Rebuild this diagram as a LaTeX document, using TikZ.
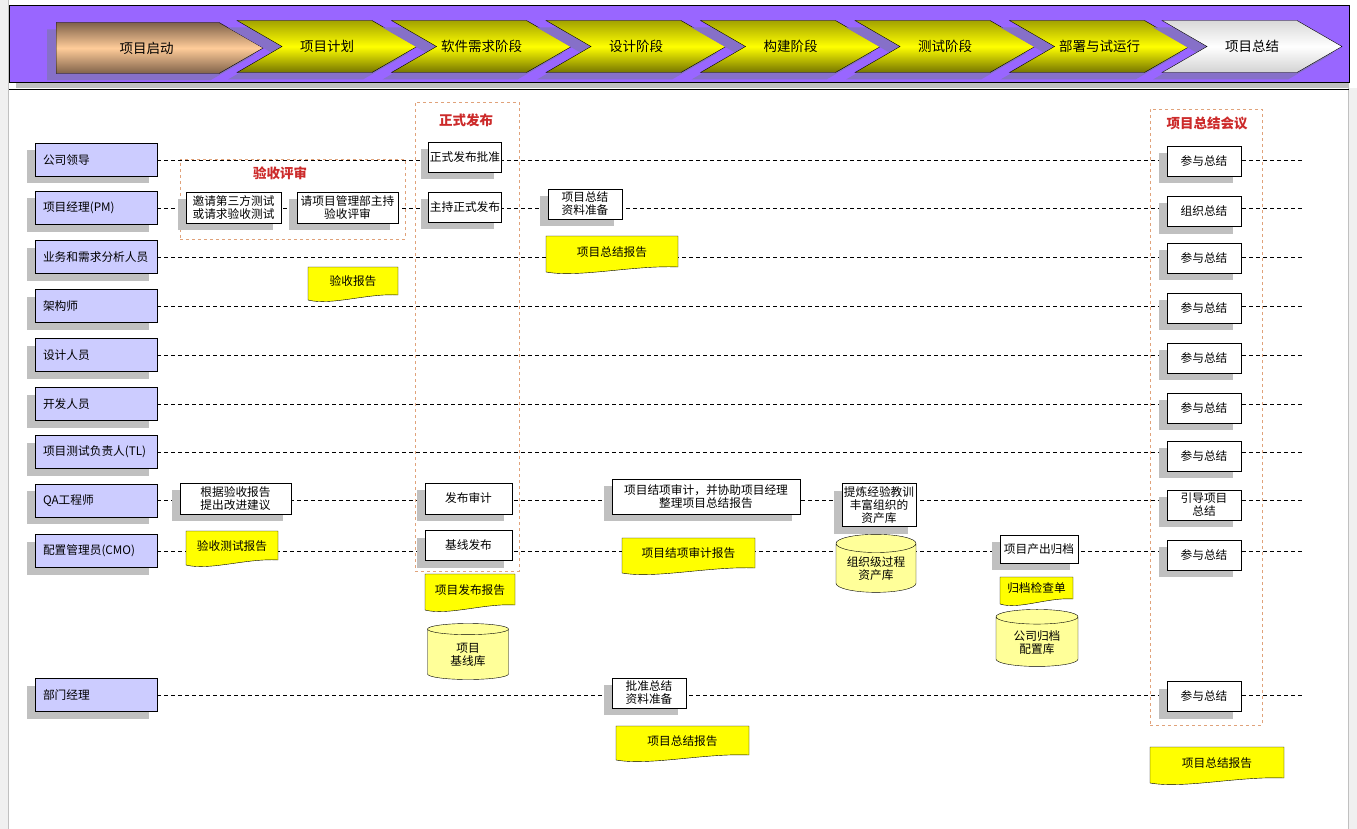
\documentclass[tikz,border=0pt]{standalone}
\usepackage{fontspec}
\setmainfont{Noto Sans CJK SC}
\usetikzlibrary{shapes.symbols, shapes.geometric, shadows, positioning}

\definecolor{hdrpurple}{HTML}{9966FF}
\definecolor{hdrshadow}{HTML}{8670C8}
\definecolor{rolefill}{HTML}{CCCCFF}
\definecolor{boxshadow}{HTML}{C0C0C0}
\definecolor{docyellow}{HTML}{FFFF00}
\definecolor{storefill}{HTML}{FFFF99}
\definecolor{framecol}{HTML}{E0A27A}
\definecolor{titlered}{HTML}{CC2A2A}
\definecolor{olivetop}{HTML}{A3A300}
\definecolor{olivebot}{HTML}{757500}
\definecolor{peach}{HTML}{FFCC99}
\definecolor{peachdark}{HTML}{80624A}
\definecolor{sidegray}{HTML}{F0F0F0}

\tikzset{
	stage/.style={signal, signal to=east, signal from=west, signal pointer angle=60, draw, minimum width=180pt, minimum height=52pt, inner sep=0pt, font=\fontsize{13.5pt}{15pt}\selectfont, drop shadow={shadow xshift=-9pt, shadow yshift=-7pt, fill=hdrshadow, opacity=1}, top color=olivetop, bottom color=olivebot, middle color=yellow},
	role/.style={draw, fill=rolefill, minimum width=122pt, minimum height=33pt, text width=106pt, align=left, inner sep=8pt, drop shadow={shadow xshift=-8pt, shadow yshift=-7pt, fill=boxshadow, opacity=1}},
	task/.style={draw, fill=white, inner sep=1pt, align=center, drop shadow={shadow xshift=-8pt, shadow yshift=-7pt, fill=boxshadow, opacity=1}},
	store/.style={cylinder, shape border rotate=90, aspect=0.3, draw, fill=storefill, align=center, inner sep=1pt},
	doctext/.style={inner sep=0pt, align=center},
	groupbox/.style={draw=framecol, dashed, inner sep=0pt},
	grouptitle/.style={text=titlered, font=\fontsize{13.5pt}{15pt}\selectfont\bfseries},
	lane/.style={dash pattern=on 4pt off 3pt, line width=0.7pt}
}

\begin{document}
\begin{tikzpicture}[x=1pt, y=-1pt, font=\fontsize{11.7pt}{13pt}\selectfont]
	\useasboundingbox (0,0) rectangle (1357,829);
	% page frame and header band
	\fill[sidegray] (0,0) rectangle (8,829);
	\fill[sidegray] (1349,88) rectangle (1357,829);
	\draw[boxshadow] (8.5,0) -- (8.5,829);
	\draw[boxshadow] (1348.5,88) -- (1348.5,829);
	\fill[boxshadow] (16,82) rectangle (1349,88);
	\draw[fill=hdrpurple] (9,5) rectangle (1349,82);
	\draw (9,89) -- (1349,89);

	\node[stage, signal from=nowhere, anchor=west, minimum width=207pt, minimum height=51pt, top color=peachdark, bottom color=peachdark, middle color=peach] (s0) at (56,48) {\hspace*{18pt}项目启动};
	\foreach \i/\t in {1/项目计划, 2/软件需求阶段, 3/设计阶段, 4/构建阶段, 5/测试阶段, 6/部署与试运行}
		\node[stage] (s\i) at (327+154.5*\i-154.5,46.5) {\t};
	\node[stage, top color=gray!30, bottom color=gray!35, middle color=white] (send) at (1252,46.5) {项目总结};

	% roles and swim lanes
	\foreach \i/\y/\t in {1/160/公司领导, 2/208/{项目经理(PM)}, 3/257/业务和需求分析人员, 4/306/架构师, 5/355/设计人员, 6/404/开发人员, 7/452/{项目测试负责人(TL)}, 8/500.5/QA工程师, 9/551/{配置管理员(CMO)}, 10/695/部门经理}{
		\node[role] (r\i) at (96,\y) {\t};
		\coordinate (e\i) at (1302,\y);
		\draw[lane] (r\i) -- (e\i);
	}

	% acceptance review
	\node[groupbox, minimum width=225pt, minimum height=80pt] (accbox) at (292.5,199) {};
	\node[grouptitle] (acct) at (280,173) {验收评审};
	\node[task, minimum width=95pt, minimum height=31pt] (invite) at (233.5,207.5) {邀请第三方测试\\或请求验收测试};
	\node[task, minimum width=101pt, minimum height=31pt] (askpmo) at (347.5,207.5) {请项目管理部主持\\验收评审};
	\node[task, minimum width=111pt, minimum height=31pt] (advise) at (235.5,498.5) {根据验收报告\\提出改进建议};

	% formal release
	\node[groupbox, minimum width=104pt, minimum height=469pt] (relbox) at (467,336.5) {};
	\node[grouptitle] (relt) at (466,120) {正式发布};
	\node[task, minimum width=73pt, minimum height=30pt] (approve) at (465,157) {正式发布批准};
	\node[task, minimum width=73pt, minimum height=30pt] (host) at (465,207) {主持正式发布};
	\node[task, minimum width=87pt, minimum height=31pt] (audit) at (468.5,498.5) {发布审计};
	\node[task, minimum width=87pt, minimum height=30pt] (baseline) at (468.5,545.5) {基线发布};
	\node[store, minimum width=81pt, minimum height=56pt] (baselib) at (468,655) {项目\\基线库};

	% closing
	\node[task, minimum width=74pt, minimum height=30pt] (prep) at (585,204) {项目总结\\资料准备};
	\node[task, minimum width=188pt, minimum height=35pt] (closeaudit) at (706,496.5) {项目结项审计，并协助项目经理\\整理项目总结报告};
	\node[task, minimum width=74pt, minimum height=30pt] (deptok) at (649,693) {批准总结\\资料准备};
	\node[task, minimum width=74pt, minimum height=43pt] (lessons) at (879,505) {提炼经验教训\\丰富组织的\\资产库};
	\node[store, minimum width=80pt, minimum height=58pt] (orglib) at (876,569) {组织级过程\\资产库};
	\node[task, minimum width=78pt, minimum height=28pt] (archive) at (1039,549) {项目产出归档};
	\node[store, minimum width=82pt, minimum height=57pt] (arclib) at (1037,642.5) {公司归档\\配置库};

	% documents
	\foreach \nm/\cx/\cy/\w/\h/\t in {accrep/353/283.5/90/33/验收报告, acctest/232/548/92/34/验收测试报告, relrep/470/592/90/36/项目发布报告, sumrep/612/254/132/36/项目总结报告, auditrep/688.5/555.5/133/35/项目结项审计报告, deptrep/682.5/743/133/34/项目总结报告, checklist/1036.5/590.5/73/27/归档检查单, finalrep/1217/765/134/36/项目总结报告}{
		\draw[fill=docyellow] (\cx-\w/2,\cy-\h/2) -- (\cx+\w/2,\cy-\h/2) -- (\cx+\w/2,\cy+\h/2-5) .. controls (\cx+\w/6,\cy+\h/2-7) and (\cx-\w/4,\cy+\h/2+6) .. (\cx-\w/2,\cy+\h/2) -- cycle;
		\node[doctext] (\nm) at (\cx,\cy-2) {\t};
	}

	% summary meeting
	\node[groupbox, minimum width=112pt, minimum height=616pt] (sumbox) at (1206,417) {};
	\node[grouptitle] (sumt) at (1207,123) {项目总结会议};
	\foreach \i/\y/\t in {1/161.5/参与总结, 2/211.5/组织总结, 3/258/参与总结, 4/308/参与总结, 5/358/参与总结, 6/408/参与总结, 7/456/参与总结, 8/505/{引导项目\\总结}, 9/555/参与总结, 10/696.5/参与总结}
		\node[task, minimum width=74pt, minimum height=30pt] (m\i) at (1204,\y) {\t};
\end{tikzpicture}
\end{document}
